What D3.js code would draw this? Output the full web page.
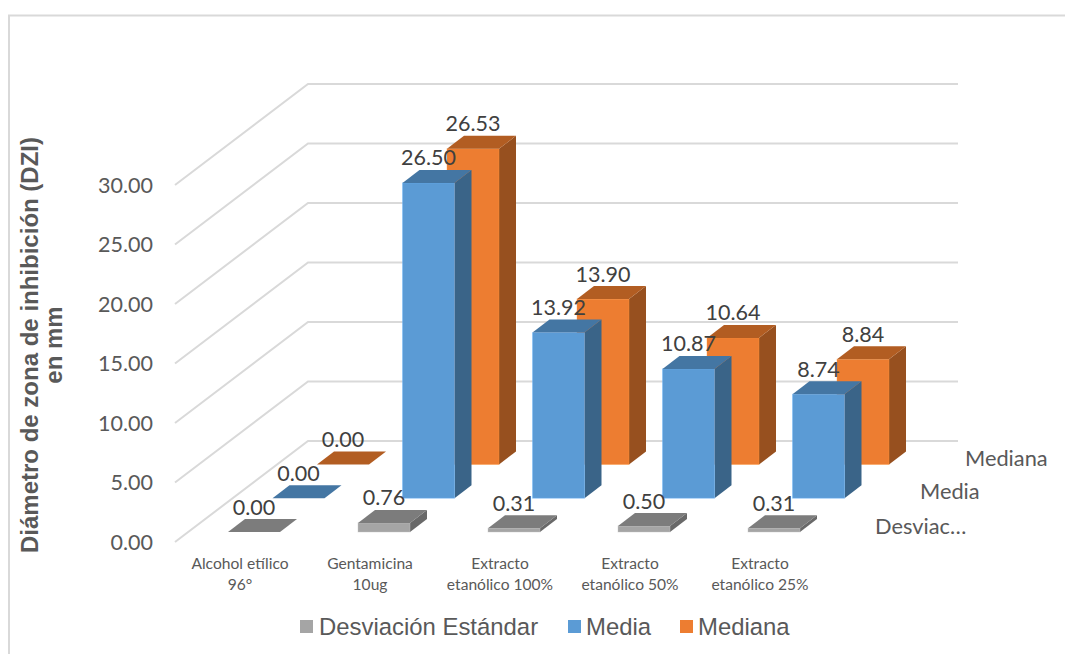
<!DOCTYPE html>
<html>
<head>
<meta charset="utf-8">
<script src="https://cdn.jsdelivr.net/npm/d3@7"></script>
<style>
  html, body { margin: 0; padding: 0; background: #fff; }
  svg { display: block; }
  text { font-family: Lato, sans-serif; }
  .arial { font-family: "Liberation Sans", Arial, sans-serif; }
  .axis path, .axis line { display: none; }
</style>
</head>
<body>
<svg id="chart" width="1065" height="654"></svg>
<script>
// Chart data
const categories = [
  ["Alcohol etílico", "96°"],
  ["Gentamicina", "10ug"],
  ["Extracto", "etanólico 100%"],
  ["Extracto", "etanólico 50%"],
  ["Extracto", "etanólico 25%"]
];
const seriesNames = ["Desviación Estándar", "Media", "Mediana"];
const depthLabels = ["Desviac…", "Media", "Mediana"];
const desviacion = [0.00, 0.76, 0.31, 0.50, 0.31];
const media = [0.00, 26.50, 13.92, 10.87, 8.74];
const mediana = [0.00, 26.53, 13.90, 10.64, 8.84];
const seriesValues = [desviacion, media, mediana];
const yTicks = [0, 5, 10, 15, 20, 25, 30];

// Palette per series: front, side and top faces of each column
const faceFront = ["#a5a5a5", "#5b9bd5", "#ed7d31"];
const faceSide = ["#696969", "#3a6488", "#97501f"];
const faceTop = ["#7c7c7c", "#4476a3", "#b25d22"];

const svg = d3.select("#chart");

// Oblique projection: value goes up, category goes right, series recedes up and right
const yScale = d3.scaleLinear().domain([0, 30]).range([542, 185]);
const xScale = d3.scalePoint().domain(d3.range(categories.length)).range([228, 748]);
const depthX = d3.scalePoint().domain(d3.range(seriesNames.length)).range([0, 89]);
const depthY = d3.scalePoint().domain(d3.range(seriesNames.length)).range([-10, -77.5]);
const barWidth = 52, barDepthX = 17, barDepthY = -13;

const wallX0 = 175, wallX1 = 308, wallX2 = 958, wallRise = -101;

// Outer frame of the chart area
svg.append("path")
  .attr("d", "M9,654V15.5H1065")
  .attr("fill", "none").attr("stroke", "#d9d9d9").attr("stroke-width", 2);

// Gridlines run along the side wall, then across the back wall
svg.append("g").selectAll("path").data(yTicks).join("path")
  .attr("d", d => {
    const y = yScale(d);
    return d3.line()([[wallX0, y], [wallX1, y + wallRise], [wallX2, y + wallRise]]);
  })
  .attr("fill", "none").attr("stroke", "#d9d9d9").attr("stroke-width", 2);

// Value axis
const yAxis = d3.axisLeft(yScale).tickValues(yTicks).tickFormat(d3.format(".2f")).tickSize(0).tickPadding(0);
const axisG = svg.append("g").attr("class", "axis").attr("transform", "translate(153,0.5)").call(yAxis);
axisG.selectAll("text").attr("font-size", 21.5).attr("fill", "#595959").style("font-family", "Lato, sans-serif");

// Columns, back series first so nearer ones overlap them
const barsG = svg.append("g");
[2, 1, 0].forEach(s => {
  seriesValues[s].forEach((v, c) => {
    const x = xScale(c) + depthX(s);
    const base = yScale(0) + depthY(s);
    const top = base - (yScale(0) - yScale(v));
    const g = barsG.append("g");
    const edge = d3.color(faceFront[s]).brighter(0.5);
    if (v > 0) {
      g.append("polygon")
        .attr("points", [[x + barWidth, base], [x + barWidth + barDepthX, base + barDepthY], [x + barWidth + barDepthX, top + barDepthY], [x + barWidth, top]].join(" "))
        .attr("fill", faceSide[s]);
      g.append("rect")
        .attr("x", x).attr("y", top).attr("width", barWidth).attr("height", base - top)
        .attr("fill", faceFront[s]).attr("stroke", edge).attr("stroke-opacity", 0.4).attr("stroke-width", 1);
    }
    g.append("polygon")
      .attr("points", [[x, top], [x + barDepthX, top + barDepthY], [x + barWidth + barDepthX, top + barDepthY], [x + barWidth, top]].join(" "))
      .attr("fill", faceTop[s]);
  });
});

// Value labels above each column
const labelsG = svg.append("g");
[2, 1, 0].forEach(s => {
  seriesValues[s].forEach((v, c) => {
    const x = xScale(c) + depthX(s);
    const top = yScale(0) + depthY(s) - (yScale(0) - yScale(v));
    labelsG.append("text")
      .attr("x", x + barWidth / 2)
      .attr("y", top + barDepthY - 4.5)
      .attr("text-anchor", "middle")
      .attr("font-size", 21.5)
      .attr("fill", "#404040")
      .text(d3.format(".2f")(v));
  });
});

// Category labels
const catG = svg.append("g");
categories.forEach((lines, c) => {
  const cx = xScale(c) + 12;
  lines.forEach((line, i) => {
    catG.append("text")
      .attr("x", cx).attr("y", 569 + i * 20.5)
      .attr("text-anchor", "middle")
      .attr("font-size", 15.6)
      .attr("fill", "#595959")
      .text(line);
  });
});

// Labels of the depth axis
const depthLabelX = [875, 920, 965], depthLabelY = [534, 499, 466];
depthLabels.forEach((t, s) => {
  svg.append("text")
    .attr("x", depthLabelX[s]).attr("y", depthLabelY[s])
    .attr("font-size", 21.8).attr("fill", "#595959")
    .text(t);
});

// Value axis title
const titleG = svg.append("g").attr("class", "title");
[["Diámetro de zona de inhibición (DZI)", 38], ["en mm", 62]].forEach(([t, x]) => {
  titleG.append("text")
    .attr("class", "arial")
    .attr("transform", `translate(${x},345) rotate(-90)`)
    .attr("text-anchor", "middle")
    .attr("font-size", 24)
    .attr("font-weight", "bold")
    .attr("fill", "#595959")
    .text(t);
});

// Legend
const legendSwatchX = [300, 568, 680], legendTextX = [319, 586, 698];
seriesNames.forEach((name, s) => {
  svg.append("rect")
    .attr("x", legendSwatchX[s]).attr("y", 620)
    .attr("width", 13).attr("height", 13)
    .attr("fill", faceFront[s]);
  svg.append("text")
    .attr("class", "arial")
    .attr("x", legendTextX[s]).attr("y", 635)
    .attr("font-size", 23.9)
    .attr("fill", "#595959")
    .text(name);
});
</script>
</body>
</html>
